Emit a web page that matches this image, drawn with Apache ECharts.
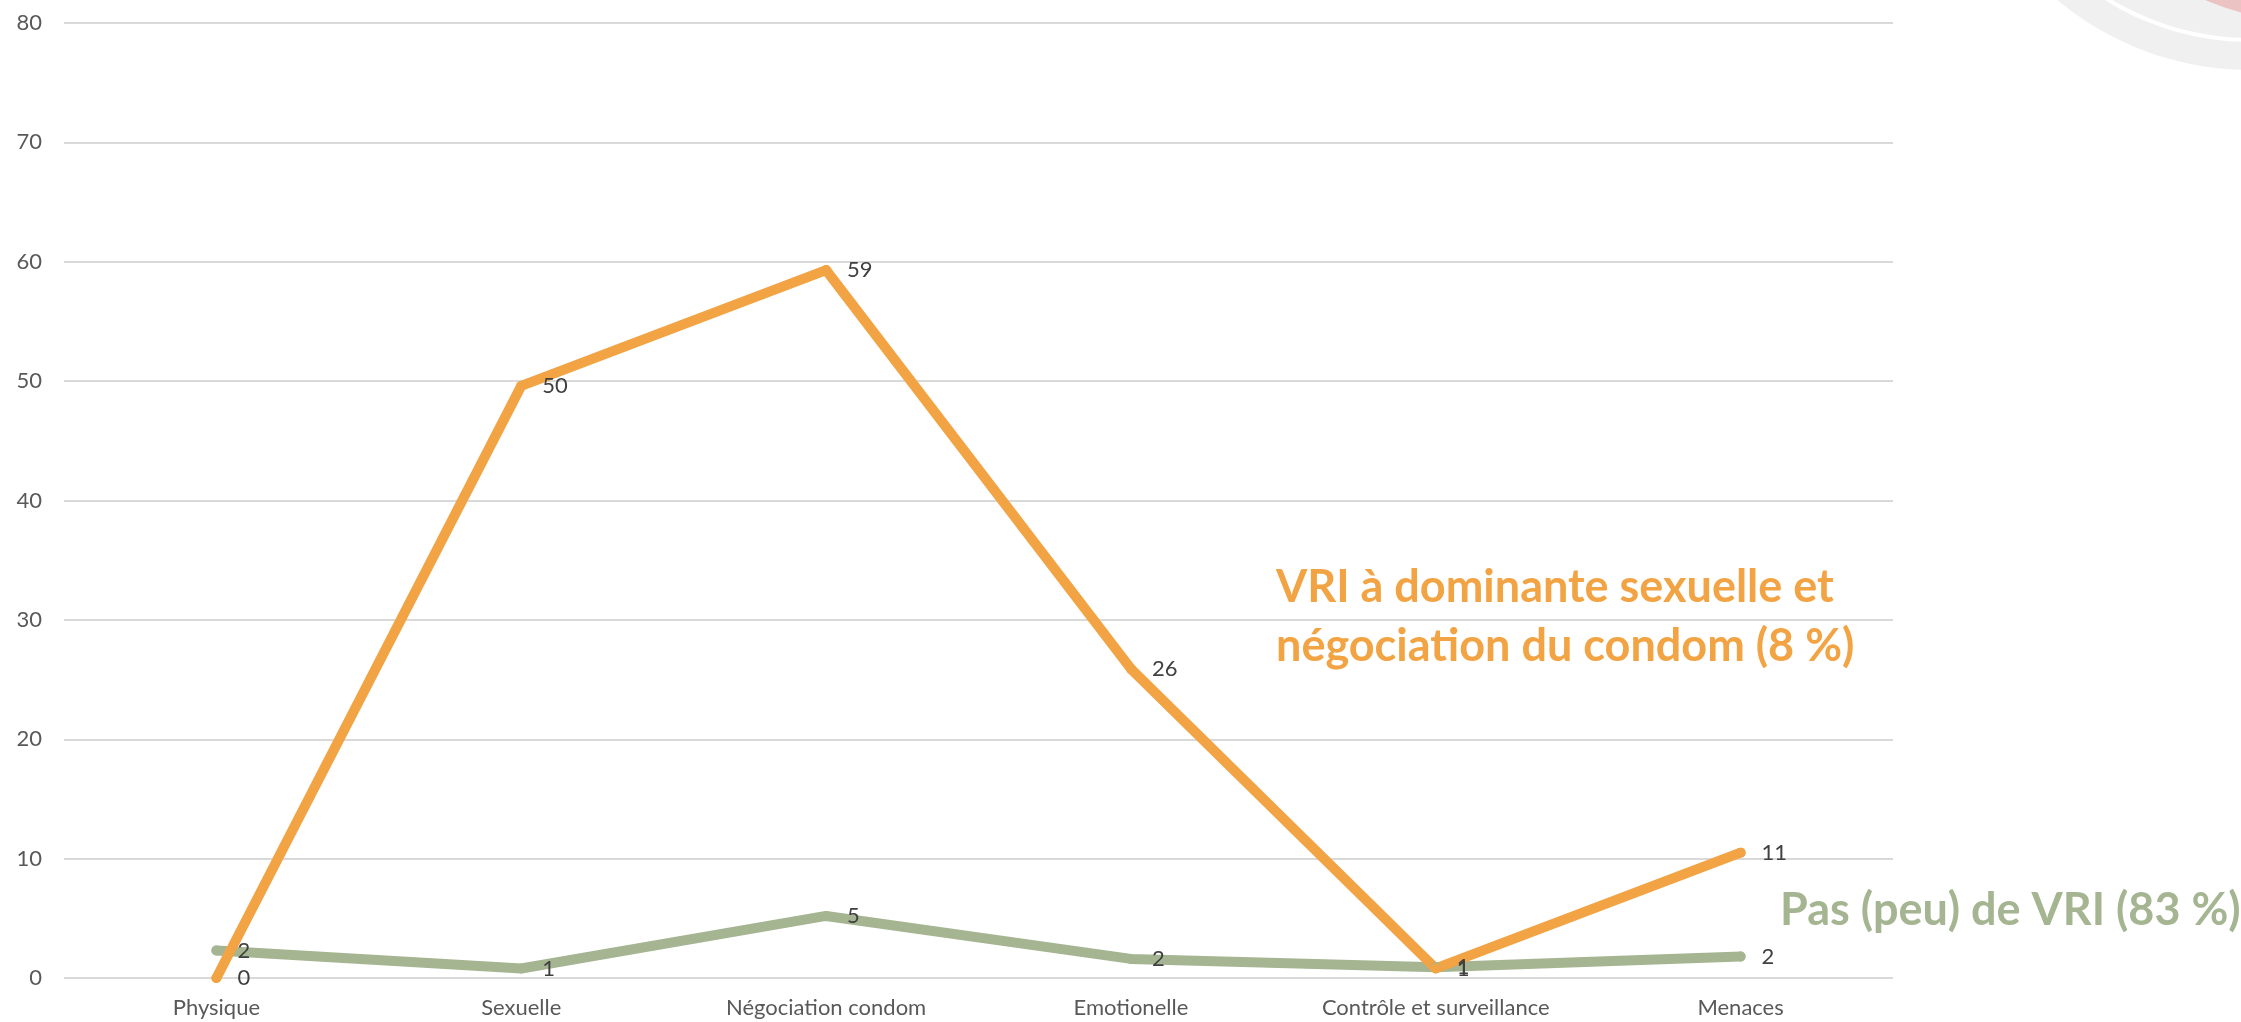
<!DOCTYPE html>
<html>
<head>
<meta charset="utf-8">
<script src="https://cdn.jsdelivr.net/npm/echarts@6/dist/echarts.min.js"></script>
<style>
html,body{margin:0;padding:0;background:#fff;}
#chart{width:2241px;height:1022px;}
</style>
</head>
<body>
<div id="chart"></div>
<script>
const categories = ['Physique', 'Sexuelle', 'Négociation condom', 'Emotionelle', 'Contrôle et surveillance', 'Menaces'];
const seriesNames = ['Pas (peu) de VRI (83 %)', 'VRI à dominante sexuelle et négociation du condom (8 %)'];
const annotationLines = ['VRI à dominante sexuelle et', 'négociation du condom (8 %)'];
const valuesPasVRI = [2.3, 0.8, 5.2, 1.6, 0.9, 1.8];
const valuesVRISexuelle = [0, 49.6, 59.3, 25.9, 0.8, 10.5];
const yTicks = [0, 10, 20, 30, 40, 50, 60, 70, 80];

const FONT = 'Lato, "Open Sans", sans-serif';
const ORANGE = '#F2A444';
const GREEN = '#A5B592';

const chart = echarts.init(document.getElementById('chart'), null, {renderer: 'canvas'});

function lineSeries(name, data, color) {
  return {
    name: name,
    type: 'line',
    data: data,
    symbol: 'circle',
    symbolSize: 10,
    itemStyle: {color: color},
    lineStyle: {color: color, width: 10, cap: 'round', join: 'round'},
    label: {
      show: true,
      position: 'right',
      distance: 16,
      color: '#404040',
      fontFamily: FONT,
      fontSize: 22,
      formatter: p => Math.round(p.value)
    },
    emphasis: {disabled: true},
    animation: false
  };
}

chart.setOption({
  backgroundColor: '#ffffff',
  animation: false,
  grid: {left: 64, right: 348, top: 23, bottom: 44, containLabel: false},
  xAxis: {
    type: 'category',
    data: categories,
    boundaryGap: true,
    axisLine: {show: false},
    axisTick: {show: false},
    axisLabel: {color: '#595959', fontFamily: FONT, fontSize: 22, margin: 19}
  },
  yAxis: {
    type: 'value',
    min: yTicks[0],
    max: yTicks[yTicks.length - 1],
    interval: yTicks[1] - yTicks[0],
    axisLine: {show: false},
    axisTick: {show: false},
    axisLabel: {color: '#595959', fontFamily: FONT, fontSize: 22, margin: 22},
    splitLine: {lineStyle: {color: '#D9D9D9', width: 2}}
  },
  series: [
    lineSeries(seriesNames[0], valuesPasVRI, GREEN),
    lineSeries(seriesNames[1], valuesVRISexuelle, ORANGE)
  ],
  graphic: [
    {type: 'circle', shape: {cx: 2250, cy: -230, r: 300}, style: {fill: '#F0F0F0'}, silent: true, z: 0},
    {type: 'circle', shape: {cx: 2250, cy: -230, r: 272}, style: {fill: '#FFFFFF'}, silent: true, z: 0},
    {type: 'circle', shape: {cx: 2250, cy: -230, r: 268}, style: {fill: '#F0F0F0'}, silent: true, z: 0},
    {type: 'circle', shape: {cx: 2300, cy: -215, r: 235}, style: {fill: '#EBC3C3'}, silent: true, z: 0},
    {type: 'text', x: 1276, y: 587, style: {text: annotationLines[0], fill: ORANGE, font: 'bold 45px ' + FONT, verticalAlign: 'middle'}, silent: true, z: 10},
    {type: 'text', x: 1276, y: 646, style: {text: annotationLines[1], fill: ORANGE, font: 'bold 45px ' + FONT, verticalAlign: 'middle'}, silent: true, z: 10},
    {type: 'text', x: 1780, y: 910, style: {text: seriesNames[0], fill: GREEN, font: 'bold 45px ' + FONT, verticalAlign: 'middle'}, silent: true, z: 10}
  ]
});
</script>
</body>
</html>
